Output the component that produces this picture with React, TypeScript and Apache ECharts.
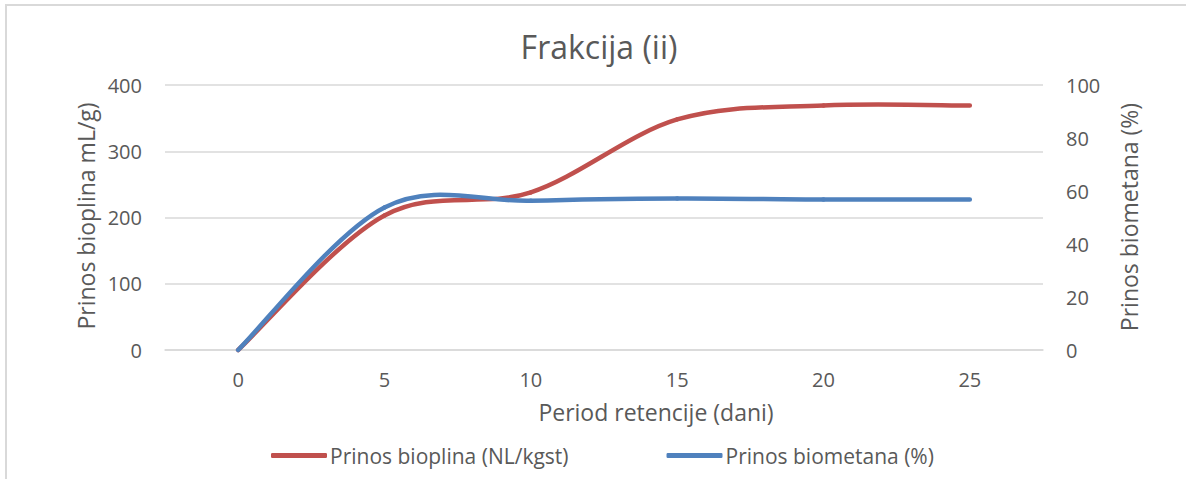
import React, { useEffect, useRef } from "react";
import * as echarts from "echarts";

const days = ["0", "5", "10", "15", "20", "25"];
const biogasYield = [0, 203, 238, 348, 369, 369];
const methaneYield = [0, 53.8, 56.3, 57.2, 56.8, 56.8];
const leftTicks = { min: 0, max: 400, interval: 100 };
const rightTicks = { min: 0, max: 100, interval: 20 };

const FONT = "'Open Sans', 'Noto Sans', sans-serif";
const TXT = "#595959";

// Excel-like smoothed line: each data item draws the Catmull-Rom segment to the next point
function smoothSegment(values: number[], color: string) {
  return (params: any, api: any) => {
    const i = params.dataIndex;
    const n = values.length;
    if (i >= n - 1) return null;
    const pt = (k: number) => api.coord([k, values[k]]);
    const p1 = pt(i);
    const p2 = pt(i + 1);
    const p0 = i > 0 ? pt(i - 1) : p1;
    const p3 = i + 2 < n ? pt(i + 2) : p2;
    return {
      type: "bezierCurve",
      shape: {
        x1: p1[0],
        y1: p1[1],
        cpx1: p1[0] + (p2[0] - p0[0]) / 6,
        cpy1: p1[1] + (p2[1] - p0[1]) / 6,
        cpx2: p2[0] - (p3[0] - p1[0]) / 6,
        cpy2: p2[1] - (p3[1] - p1[1]) / 6,
        x2: p2[0],
        y2: p2[1],
      },
      style: { stroke: color, lineWidth: 4.5, fill: "none", lineCap: "round", lineJoin: "round" },
    };
  };
}

export default function App() {
  const ref = useRef<HTMLDivElement>(null);
  useEffect(() => {
    if (!ref.current) return;
    const chart = echarts.init(ref.current, undefined, { renderer: "svg" });
    chart.setOption({
      animation: false,
      backgroundColor: "#ffffff",
      textStyle: { fontFamily: FONT, color: TXT },
      title: {
        text: "Frakcija (ii)",
        left: 594,
        top: 25,
        textAlign: "center",
        textStyle: { fontFamily: FONT, fontSize: 32, fontWeight: "normal", color: TXT },
      },
      grid: { left: 165, right: 143, top: 85, bottom: 129, containLabel: false },
      legend: {
        left: 266,
        top: 440,
        itemWidth: 56,
        itemHeight: 5,
        itemGap: 98,
        icon: "roundRect",
        textStyle: { fontFamily: FONT, fontSize: 21, color: TXT, padding: [0, 0, 0, -2] },
        data: ["Prinos bioplina (NL/kgst)", "Prinos biometana (%)"],
      },
      xAxis: {
        type: "category",
        data: days,
        boundaryGap: true,
        axisLine: { show: true, lineStyle: { color: "#D9D9D9", width: 1.5 } },
        axisTick: { show: false },
        axisLabel: { fontFamily: FONT, fontSize: 20, color: TXT, margin: 19 },
        splitLine: { show: false },
      },
      yAxis: [
        {
          type: "value",
          ...leftTicks,
          axisLine: { show: false },
          axisTick: { show: false },
          axisLabel: { fontFamily: FONT, fontSize: 20, color: TXT, margin: 23 },
          splitLine: { show: true, lineStyle: { color: "#D9D9D9", width: 1.5 } },
        },
        {
          type: "value",
          position: "right",
          ...rightTicks,
          axisLine: { show: false },
          axisTick: { show: false },
          axisLabel: { fontFamily: FONT, fontSize: 20, color: TXT, margin: 23 },
          splitLine: { show: false },
        },
      ],
      graphic: [
        {
          type: "rect",
          shape: { x: 6, y: 5, width: 1300, height: 600 },
          style: { fill: "none", stroke: "#D9D9D9", lineWidth: 2 },
          silent: true,
        },
        {
          type: "text",
          x: 86,
          y: 216,
          rotation: Math.PI / 2,
          style: {
            text: "Prinos bioplina mL/g)",
            fontFamily: FONT,
            fontSize: 23,
            fill: TXT,
            align: "center",
            verticalAlign: "middle",
          },
        },
        {
          type: "text",
          x: 1129,
          y: 217,
          rotation: Math.PI / 2,
          style: {
            text: "Prinos biometana (%)",
            fontFamily: FONT,
            fontSize: 23,
            fill: TXT,
            align: "center",
            verticalAlign: "middle",
          },
        },
        {
          type: "text",
          x: 656,
          y: 412,
          style: {
            text: "Period retencije (dani)",
            fontFamily: FONT,
            fontSize: 23,
            fill: TXT,
            align: "center",
            verticalAlign: "middle",
          },
        },
      ],
      series: [
        {
          name: "Prinos bioplina (NL/kgst)",
          type: "custom",
          yAxisIndex: 0,
          data: biogasYield.map((v, k) => [k, v]),
          encode: { x: 0, y: 1 },
          color: "#C0504D",
          itemStyle: { color: "#C0504D" },
          renderItem: smoothSegment(biogasYield, "#C0504D"),
        },
        {
          name: "Prinos biometana (%)",
          type: "custom",
          yAxisIndex: 1,
          data: methaneYield.map((v, k) => [k, v]),
          encode: { x: 0, y: 1 },
          color: "#4F81BD",
          itemStyle: { color: "#4F81BD" },
          renderItem: smoothSegment(methaneYield, "#4F81BD"),
        },
      ],
    });
    return () => chart.dispose();
  }, []);
  return (
    <div
      ref={ref}
      style={{ position: "absolute", left: 0, top: 0, width: 1186, height: 479 }}
    />
  );
}
